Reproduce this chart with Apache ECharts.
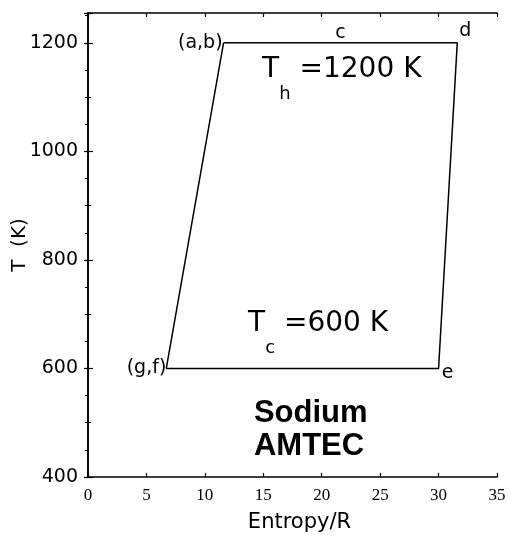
<!DOCTYPE html>
<html>
<head>
<meta charset="utf-8">
<script src="https://cdn.jsdelivr.net/npm/echarts@6/dist/echarts.min.js"></script>
<style>
  html, body { margin: 0; padding: 0; background: #fff; }
  #main { width: 508px; height: 536px; }
</style>
</head>
<body>
<div id="main"></div>
<script>
// 循环路径 (a,b) -> d -> e -> (g,f) -> (a,b)
var cycleEntropy = [11.6, 31.6, 30.0, 6.7, 11.6];
var cycleTemp = [1200, 1200, 600, 600, 1200];

// 状态点标注
var stateNames = ['(a,b)', 'c', 'd', 'e', '(g,f)'];
var stateEntropy = [11.6, 21.6, 31.6, 30.0, 6.7];
var stateTemp = [1200, 1200, 1200, 600, 600];

// 文字注释
var noteText = ['{t|T}{s|h}{t| =1200 K}', '{t|T}{s|c}{t| =600 K}', 'Sodium\nAMTEC'];
var noteEntropy = [14.9, 13.7, 14.2];
var noteTemp = [1132, 664, 486];

var xTicks = [0, 5, 10, 15, 20, 25, 30, 35];
var yTicks = [400, 600, 800, 1000, 1200];

var myChart = echarts.init(document.getElementById('main'));

var stateLabel = [
  { position: 'left', distance: 1 },
  { position: 'top', distance: 0 },
  { position: 'inside', offset: [8, -12] },
  { position: 'inside', offset: [9, 5] },
  { position: 'left', distance: 0 }
];

// 主字与下标总高度一致, 下标靠 padding 压低
var noteRich = {
  t: { fontFamily: 'DejaVu Sans', fontSize: 28, lineHeight: 26, padding: [0, 0, 21, 0], color: '#000' },
  s: { fontFamily: 'DejaVu Sans', fontSize: 18, lineHeight: 18, padding: [29, 0, 0, 0], color: '#000' }
};

var axisLine = { show: true, lineStyle: { color: '#000', width: 1.6 } };

option = {
  animation: false,
  backgroundColor: '#fff',
  grid: { left: 88, right: 11, top: 13, bottom: 59, outerBoundsMode: 'none', containLabel: false },
  xAxis: [{
    type: 'value',
    position: 'bottom',
    min: xTicks[0],
    max: xTicks[xTicks.length - 1],
    interval: 5,
    name: 'Entropy/R',
    nameLocation: 'middle',
    nameGap: 35,
    nameMoveOverlap: false,
    nameTextStyle: { fontFamily: 'DejaVu Sans', fontSize: 21, color: '#000', padding: [0, 0, 0, 14] },
    axisLine: axisLine,
    axisTick: { inside: true, length: 4, lineStyle: { color: '#000', width: 1.2 } },
    axisLabel: { margin: 10, fontFamily: 'Liberation Serif', fontSize: 17, color: '#000' },
    splitLine: { show: false }
  }, {
    type: 'value',
    position: 'top',
    min: xTicks[0],
    max: xTicks[xTicks.length - 1],
    interval: 5,
    axisLine: axisLine,
    axisTick: { inside: true, length: 4, lineStyle: { color: '#000', width: 1.2 } },
    axisLabel: { show: false },
    splitLine: { show: false }
  }],
  yAxis: [{
    type: 'value',
    position: 'left',
    min: yTicks[0],
    max: 1255,
    interval: 200,
    name: 'T  (K)',
    nameLocation: 'middle',
    nameGap: 58,
    nameMoveOverlap: false,
    nameTextStyle: { fontFamily: 'DejaVu Sans', fontSize: 20, color: '#000' },
    axisLine: axisLine,
    axisTick: { inside: true, length: 5, lineStyle: { color: '#000', width: 1.2 } },
    minorTick: { show: true, splitNumber: 2, length: 3, lineStyle: { color: '#000' } },
    axisLabel: {
      margin: 10, fontFamily: 'DejaVu Sans', fontSize: 19, color: '#000', showMaxLabel: false,
      formatter: function (v) { return String(v); }
    },
    splitLine: { show: false }
  }, {
    type: 'value',
    position: 'right',
    min: yTicks[0],
    max: 1255,
    interval: 200,
    axisLine: axisLine,
    axisTick: { inside: true, length: 4, lineStyle: { color: '#000', width: 1.2 } },
    minorTick: { show: true, splitNumber: 4, length: 3, lineStyle: { color: '#000' } },
    axisLabel: { show: false },
    splitLine: { show: false }
  }],
  series: [{
    name: 'cycle',
    type: 'line',
    symbol: 'none',
    lineStyle: { color: '#000', width: 1.5 },
    data: cycleEntropy.map(function (x, i) { return [x, cycleTemp[i]]; })
  }, {
    name: 'states',
    type: 'scatter',
    symbolSize: 0,
    itemStyle: { opacity: 1 },
    label: { show: true, formatter: '{b}', fontFamily: 'DejaVu Sans', fontSize: 19, color: '#000' },
    data: stateNames.map(function (n, i) {
      var lab = Object.assign({ color: '#000', textBorderWidth: 0 }, stateLabel[i]);
      return { name: n, value: [stateEntropy[i], stateTemp[i]], label: lab };
    })
  }, {
    name: 'notes',
    type: 'scatter',
    symbolSize: 0,
    itemStyle: { opacity: 1 },
    label: {
      show: true,
      position: 'inside',
      align: 'left',
      verticalAlign: 'middle',
      formatter: '{b}',
      color: '#000',
      textBorderWidth: 0,
      rich: noteRich
    },
    data: noteText.map(function (n, i) {
      var item = { name: n, value: [noteEntropy[i], noteTemp[i]] };
      if (i === 2) {
        item.label = { color: '#000', fontFamily: 'Liberation Sans', fontWeight: 'bold', fontSize: 31, lineHeight: 33 };
      }
      return item;
    })
  }]
};

myChart.setOption(option);
</script>
</body>
</html>
